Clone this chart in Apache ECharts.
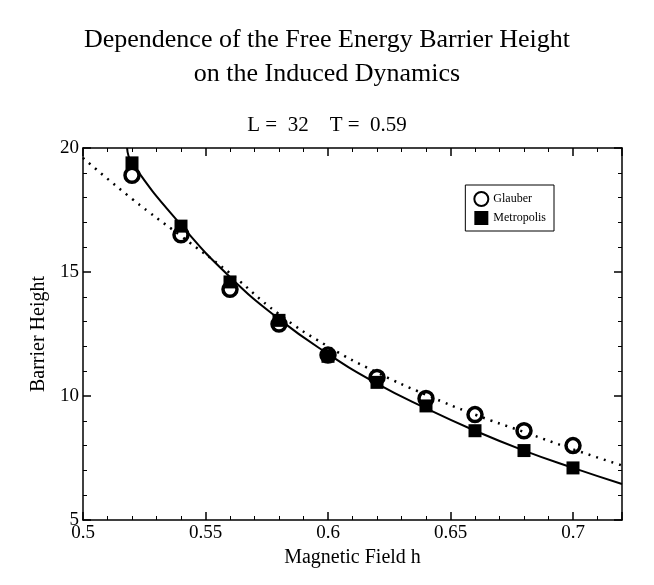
<!DOCTYPE html>
<html>
<head>
<meta charset="UTF-8">
<script src="https://cdn.jsdelivr.net/npm/echarts@6/dist/echarts.min.js"></script>
</head>
<body style="margin:0;background:#fff">
<div id="chart" style="width:654px;height:585px;"></div>
<script>
// values
var hValues = [0.52, 0.54, 0.56, 0.58, 0.6, 0.62, 0.64, 0.66, 0.68, 0.7];
var glauber = [18.9, 16.5, 14.3, 12.9, 11.65, 10.75, 9.9, 9.25, 8.6, 8.0];
var metropolis = [19.4, 16.85, 14.6, 13.05, 11.6, 10.55, 9.6, 8.6, 7.8, 7.1];
var solidX = [0.518, 0.52, 0.54, 0.56, 0.58, 0.6, 0.62, 0.64, 0.66, 0.68, 0.7, 0.72];
var solidY = [20, 19.4, 16.9, 14.8, 13.1, 11.7, 10.5, 9.5, 8.6, 7.8, 7.1, 6.45];
var dotX = [0.5, 0.52, 0.54, 0.56, 0.58, 0.6, 0.62, 0.64, 0.66, 0.68, 0.7, 0.72];
var dotY = [19.6, 17.95, 16.45, 14.95, 13.3, 12.0, 10.95, 10.05, 9.25, 8.55, 7.85, 7.2];

function zip(a, b) { var r = []; for (var i = 0; i < a.length; i++) r.push([a[i], b[i]]); return r; }

var font = 'Liberation Serif';
var chart = echarts.init(document.getElementById('chart'));
var axisCommon = {
    axisLine: { lineStyle: { color: '#000', width: 1.5 } },
    axisTick: { inside: true, length: 8, lineStyle: { color: '#000', width: 1.5 } },
    minorTick: { show: true, splitNumber: 5, length: 4, lineStyle: { color: '#000' } },
    splitLine: { show: false },
    nameTextStyle: { color: '#000', fontFamily: font, fontSize: 20 }
};
chart.setOption({
    animation: false,
    title: [
        { text: 'Dependence of the Free Energy Barrier Height\non the Induced Dynamics', left: 'center', top: 18,
          textStyle: { fontFamily: font, fontWeight: 'normal', fontSize: 26, lineHeight: 34, color: '#000' } },
        { text: 'L =  32    T =  0.59', left: 'center', top: 110,
          textStyle: { fontFamily: font, fontWeight: 'normal', fontSize: 21, color: '#000' } }
    ],
    grid: { left: 83, right: 32, top: 148, bottom: 65 },
    legend: {
        right: 100, top: 185, orient: 'vertical', itemGap: 4, itemWidth: 14, itemHeight: 14,
        borderColor: '#000', borderWidth: 1, padding: [6, 8],
        textStyle: { fontFamily: font, fontSize: 12, color: '#000' },
        data: [{ name: 'Glauber', icon: 'circle' }, { name: 'Metropolis', icon: 'rect' }]
    },
    xAxis: [Object.assign({ type: 'value', min: 0.5, max: 0.72, interval: 0.05, name: 'Magnetic Field h',
        nameLocation: 'middle', nameGap: 24 }, axisCommon, {
        axisLabel: { color: '#000', fontFamily: font, fontSize: 19, margin: 4, showMaxLabel: false,
            formatter: function (v) { return (Math.round(v * 100) / 100).toString(); } } }),
        Object.assign({ type: 'value', min: 0.5, max: 0.72, interval: 0.05, position: 'top' }, axisCommon,
        { axisLabel: { show: false } })],
    yAxis: [Object.assign({ type: 'value', min: 5, max: 20, interval: 5, name: 'Barrier Height',
        nameLocation: 'middle', nameGap: 32 }, axisCommon, { axisLabel: { color: '#000', fontFamily: font, fontSize: 19, margin: 4 } }),
        Object.assign({ type: 'value', min: 5, max: 20, interval: 5, position: 'right' }, axisCommon,
        { axisLabel: { show: false } })],
    series: [
        { type: 'line', data: zip(solidX, solidY), smooth: true, showSymbol: false, lineStyle: { color: '#000', width: 2 } },
        { type: 'line', data: zip(dotX, dotY), smooth: true, showSymbol: false, lineStyle: { color: '#000', width: 2.5, type: [2, 6] } },
        { name: 'Glauber', type: 'scatter', data: zip(hValues, glauber), symbol: 'circle', symbolSize: 14,
          itemStyle: { color: '#fff', borderColor: '#000', borderWidth: 3.5, opacity: 1 } },
        { name: 'Metropolis', type: 'scatter', data: zip(hValues, metropolis), symbol: 'rect', symbolSize: 13,
          itemStyle: { color: '#000', opacity: 1 } }
    ]
});
</script>
</body>
</html>
